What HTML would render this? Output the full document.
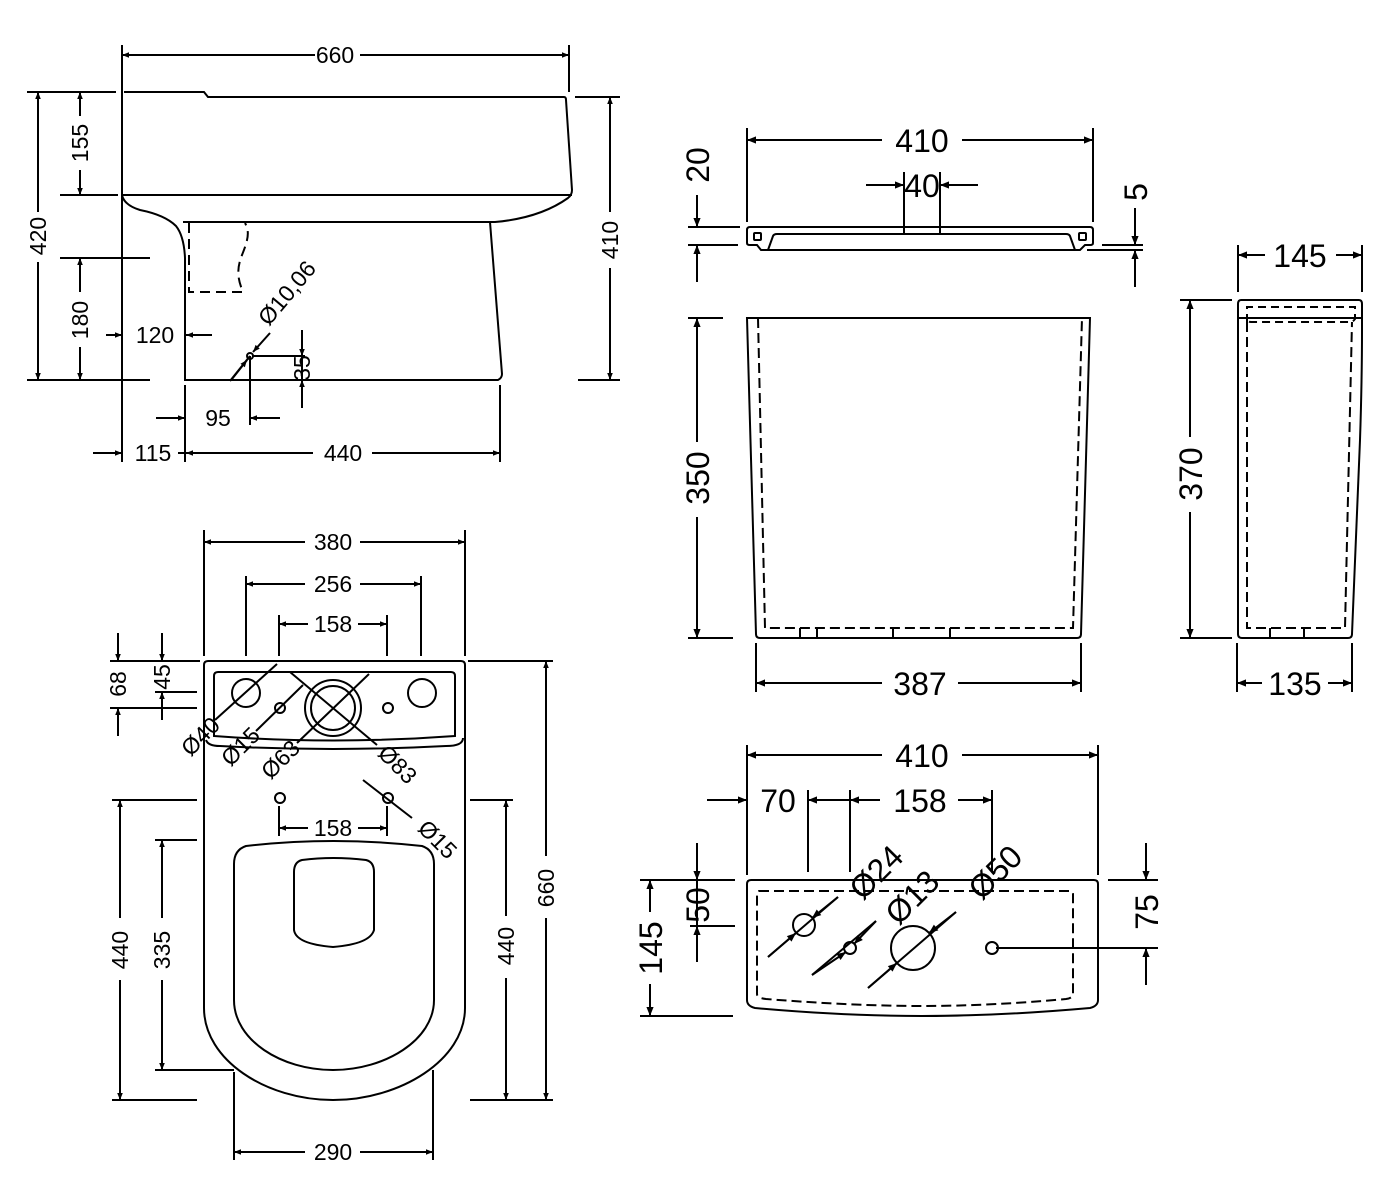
<!DOCTYPE html>
<html><head><meta charset="utf-8"><style>
html,body{margin:0;padding:0;background:#fff;}
svg{display:block;}
text{font-family:"Liberation Sans",sans-serif;fill:#000;}
.s{font-size:23px;}
.b{font-size:32px;}
</style></head><body>
<svg width="1400" height="1200" viewBox="0 0 1400 1200" xmlns="http://www.w3.org/2000/svg">
<defs>
<marker id="a" viewBox="0 0 10 10" refX="10" refY="5" markerWidth="17" markerHeight="7" markerUnits="userSpaceOnUse" orient="auto"><path d="M0,1 L10,5 L0,9z" fill="#000"/></marker>
<marker id="A" viewBox="0 0 10 10" refX="10" refY="5" markerWidth="21" markerHeight="9" markerUnits="userSpaceOnUse" orient="auto"><path d="M0,1 L10,5 L0,9z" fill="#000"/></marker>
</defs>
<g fill="none" stroke="#000" stroke-width="2">

<!-- ===== SIDE VIEW ===== -->
<path d="M124,92 H204 L208,97 H564 Q566,97 566,100 L572,190 Q572,195 568,198 Q540,218 495,222 H183"/>
<path d="M122,195 H572"/>
<path d="M122,195 Q124,205 140,210 Q165,215 176,226 Q184,236 185,258 V380 H498 Q502,378 502,374 L490,222"/>
<path d="M189,223 V292 H243 C238,280 236,270 242,255 C248,240 250,232 245,223" stroke-dasharray="10,6"/>
<line x1="122" y1="45" x2="122" y2="462"/><line x1="569" y1="45" x2="569" y2="92"/>
<line x1="315" y1="55" x2="122" y2="55" marker-end="url(#a)"/><line x1="360" y1="55" x2="569" y2="55" marker-end="url(#a)"/>
<line x1="27" y1="92" x2="116" y2="92"/><line x1="27" y1="380" x2="150" y2="380"/>
<line x1="38" y1="212" x2="38" y2="92" marker-end="url(#a)"/><line x1="38" y1="262" x2="38" y2="380" marker-end="url(#a)"/>
<line x1="60" y1="195" x2="118" y2="195"/>
<line x1="80" y1="116" x2="80" y2="92" marker-end="url(#a)"/><line x1="80" y1="170" x2="80" y2="195" marker-end="url(#a)"/>
<line x1="60" y1="258" x2="150" y2="258"/>
<line x1="80" y1="292" x2="80" y2="258" marker-end="url(#a)"/><line x1="80" y1="347" x2="80" y2="380" marker-end="url(#a)"/>
<line x1="106" y1="335" x2="122" y2="335" marker-end="url(#a)"/><line x1="212" y1="335" x2="186" y2="335" marker-end="url(#a)"/>
<line x1="575" y1="97" x2="620" y2="97"/><line x1="578" y1="380" x2="620" y2="380"/>
<line x1="610" y1="212" x2="610" y2="97" marker-end="url(#a)"/><line x1="610" y1="268" x2="610" y2="380" marker-end="url(#a)"/>
<circle cx="250" cy="356" r="3"/>
<line x1="230" y1="381" x2="250" y2="356" /><line x1="232" y1="379" x2="247" y2="360" marker-end="url(#a)"/>
<line x1="270" y1="333" x2="253" y2="352" marker-end="url(#a)"/>
<line x1="252" y1="356" x2="305" y2="356"/>
<line x1="302" y1="330" x2="302" y2="356" marker-end="url(#a)"/><line x1="302" y1="408" x2="302" y2="380" marker-end="url(#a)"/>
<line x1="302" y1="356" x2="302" y2="380"/>
<line x1="250" y1="356" x2="250" y2="425"/><line x1="185" y1="385" x2="185" y2="462"/>
<line x1="156" y1="418" x2="185" y2="418" marker-end="url(#a)"/><line x1="280" y1="418" x2="250" y2="418" marker-end="url(#a)"/>
<line x1="500" y1="385" x2="500" y2="462"/>
<line x1="93" y1="453" x2="122" y2="453" marker-end="url(#a)"/><line x1="313" y1="453" x2="186" y2="453" marker-end="url(#a)"/>
<line x1="372" y1="453" x2="500" y2="453" marker-end="url(#a)"/><line x1="178" y1="453" x2="186" y2="453"/>

<!-- ===== PLAN VIEW ===== -->
<path d="M208,661 H461 Q465,661 465,665 V1008 C465,1060 400,1100 333,1100 C266,1100 204,1060 204,1008 V665 Q204,661 208,661 Z"/>
<path d="M206,740 Q208,746 220,746 Q333,752 446,746 Q463,746 463,738"/>
<path d="M218,672 H451 Q455,672 455,676 V736 Q333,745 214,736 V676 Q214,672 218,672 Z"/>
<circle cx="246" cy="693" r="14"/><circle cx="422" cy="693" r="14"/>
<circle cx="280" cy="708" r="5"/><circle cx="388" cy="708" r="5"/>
<circle cx="333" cy="708" r="28"/><circle cx="333" cy="708" r="22"/>
<circle cx="280" cy="798" r="5"/><circle cx="388" cy="798" r="5"/>
<path d="M246,846 Q333,836 422,846 Q434,850 434,864 V1000 C434,1040 385,1070 333,1070 C281,1070 234,1040 234,1000 V864 Q234,850 246,846 Z"/>
<path d="M302,860 Q333,856 366,860 Q374,862 374,872 V930 Q370,944 333,947 Q296,944 294,930 V872 Q294,862 302,860 Z"/>
<line x1="215" y1="720" x2="277" y2="664"/>
<line x1="256" y1="731" x2="303" y2="685"/>
<line x1="297" y1="743" x2="369" y2="674"/>
<line x1="290" y1="672" x2="377" y2="745"/>
<line x1="363" y1="780" x2="412" y2="818"/>
<line x1="204" y1="530" x2="204" y2="656"/><line x1="465" y1="530" x2="465" y2="656"/>
<line x1="305" y1="542" x2="204" y2="542" marker-end="url(#a)"/><line x1="360" y1="542" x2="465" y2="542" marker-end="url(#a)"/>
<line x1="246" y1="576" x2="246" y2="656"/><line x1="421" y1="576" x2="421" y2="656"/>
<line x1="305" y1="584" x2="246" y2="584" marker-end="url(#a)"/><line x1="360" y1="584" x2="421" y2="584" marker-end="url(#a)"/>
<line x1="279" y1="615" x2="279" y2="656"/><line x1="387" y1="615" x2="387" y2="656"/>
<line x1="308" y1="624" x2="279" y2="624" marker-end="url(#a)"/><line x1="358" y1="624" x2="387" y2="624" marker-end="url(#a)"/>
<line x1="279" y1="806" x2="279" y2="836"/><line x1="387" y1="806" x2="387" y2="836"/>
<line x1="308" y1="828" x2="279" y2="828" marker-end="url(#a)"/><line x1="358" y1="828" x2="387" y2="828" marker-end="url(#a)"/>
<line x1="110" y1="661" x2="200" y2="661"/><line x1="110" y1="708" x2="197" y2="708"/><line x1="155" y1="692" x2="197" y2="692"/>
<line x1="118" y1="633" x2="118" y2="661" marker-end="url(#a)"/><line x1="118" y1="736" x2="118" y2="708" marker-end="url(#a)"/>
<line x1="162" y1="633" x2="162" y2="661" marker-end="url(#a)"/><line x1="162" y1="720" x2="162" y2="692" marker-end="url(#a)"/>
<line x1="112" y1="800" x2="197" y2="800"/><line x1="112" y1="1100" x2="197" y2="1100"/>
<line x1="120" y1="918" x2="120" y2="800" marker-end="url(#a)"/><line x1="120" y1="980" x2="120" y2="1100" marker-end="url(#a)"/>
<line x1="155" y1="840" x2="197" y2="840"/><line x1="155" y1="1070" x2="234" y2="1070"/>
<line x1="162" y1="918" x2="162" y2="840" marker-end="url(#a)"/><line x1="162" y1="980" x2="162" y2="1070" marker-end="url(#a)"/>
<line x1="470" y1="800" x2="513" y2="800"/><line x1="470" y1="1100" x2="553" y2="1100"/><line x1="468" y1="661" x2="553" y2="661"/>
<line x1="506" y1="916" x2="506" y2="800" marker-end="url(#a)"/><line x1="506" y1="978" x2="506" y2="1100" marker-end="url(#a)"/>
<line x1="546" y1="856" x2="546" y2="661" marker-end="url(#a)"/><line x1="546" y1="918" x2="546" y2="1100" marker-end="url(#a)"/>
<line x1="234" y1="1072" x2="234" y2="1160"/><line x1="433" y1="1070" x2="433" y2="1160"/>
<line x1="305" y1="1152" x2="234" y2="1152" marker-end="url(#a)"/><line x1="360" y1="1152" x2="433" y2="1152" marker-end="url(#a)"/>

<!-- ===== LID ===== -->
<path d="M750,227 H1090 Q1093,227 1093,230 V243 Q1093,245 1090,245 H1085 L1080,250 H761 L757,245 H750 Q747,245 747,243 V230 Q747,227 750,227 Z"/>
<path d="M768,250 L773,236 Q774,234 777,234 H1066 Q1069,234 1070,236 L1075,250"/>
<rect x="754" y="233" width="7" height="7" rx="1"/><rect x="1079" y="233" width="7" height="7" rx="1"/>
<line x1="747" y1="128" x2="747" y2="222"/><line x1="1093" y1="128" x2="1093" y2="222"/>
<line x1="882" y1="140" x2="747" y2="140" marker-end="url(#A)"/><line x1="962" y1="140" x2="1093" y2="140" marker-end="url(#A)"/>
<line x1="904" y1="172" x2="904" y2="234"/><line x1="940" y1="172" x2="940" y2="234"/>
<line x1="866" y1="185" x2="904" y2="185" marker-end="url(#A)"/><line x1="978" y1="185" x2="940" y2="185" marker-end="url(#A)"/>
<line x1="688" y1="227" x2="740" y2="227"/><line x1="688" y1="245" x2="738" y2="245"/>
<line x1="697" y1="195" x2="697" y2="227" marker-end="url(#A)"/><line x1="697" y1="282" x2="697" y2="245" marker-end="url(#A)"/>
<line x1="1102" y1="245" x2="1143" y2="245"/><line x1="1087" y1="250" x2="1143" y2="250"/>
<line x1="1135" y1="208" x2="1135" y2="245" marker-end="url(#A)"/><line x1="1135" y1="287" x2="1135" y2="250" marker-end="url(#A)"/>

<!-- ===== TANK FRONT ===== -->
<path d="M747,318 H1090 L1081,634 Q1081,638 1077,638 H760 Q756,638 756,634 Z"/>
<path d="M758,318 L765,628 H1073 L1082,318" stroke-dasharray="10,5"/>
<path d="M800,628 V638 M817,628 V638 M893,628 V638 M950,628 V638"/>
<line x1="688" y1="318" x2="723" y2="318"/><line x1="688" y1="638" x2="733" y2="638"/>
<line x1="697" y1="442" x2="697" y2="318" marker-end="url(#A)"/><line x1="697" y1="517" x2="697" y2="638" marker-end="url(#A)"/>
<line x1="756" y1="643" x2="756" y2="692"/><line x1="1081" y1="643" x2="1081" y2="692"/>
<line x1="882" y1="683" x2="756" y2="683" marker-end="url(#A)"/><line x1="958" y1="683" x2="1081" y2="683" marker-end="url(#A)"/>

<!-- ===== TANK SIDE ===== -->
<path d="M1241,300 H1359 Q1362,300 1362,304 V330 Q1362,380 1360,440 L1352,634 Q1352,638 1348,638 H1242 Q1238,638 1238,634 V304 Q1238,300 1241,300 Z"/>
<line x1="1238" y1="318" x2="1362" y2="318"/>
<path d="M1247,322 V307 H1355 V319 Q1353,322 1350,322 H1251 Q1248,322 1247,320" stroke-dasharray="8,5"/>
<path d="M1247,322 V628 H1345 L1352,322" stroke-dasharray="10,5"/>
<path d="M1270,628 V638 M1304,628 V638"/>
<line x1="1238" y1="245" x2="1238" y2="292"/><line x1="1362" y1="245" x2="1362" y2="292"/>
<line x1="1265" y1="255" x2="1238" y2="255" marker-end="url(#A)"/><line x1="1336" y1="255" x2="1362" y2="255" marker-end="url(#A)"/>
<line x1="1180" y1="300" x2="1232" y2="300"/><line x1="1180" y1="638" x2="1232" y2="638"/>
<line x1="1190" y1="437" x2="1190" y2="300" marker-end="url(#A)"/><line x1="1190" y1="512" x2="1190" y2="638" marker-end="url(#A)"/>
<line x1="1237" y1="643" x2="1237" y2="692"/><line x1="1352" y1="643" x2="1352" y2="692"/>
<line x1="1262" y1="683" x2="1237" y2="683" marker-end="url(#A)"/><line x1="1328" y1="683" x2="1352" y2="683" marker-end="url(#A)"/>

<!-- ===== TANK TOP ===== -->
<path d="M751,880 H1094 Q1098,880 1098,884 V1000 Q1098,1006 1090,1008 Q1000,1016 922,1016 Q844,1016 755,1008 Q747,1006 747,1000 V884 Q747,880 751,880 Z"/>
<path d="M759,891 H1070 Q1073,891 1073,894 V994 Q1073,998 1066,999 Q990,1006 922,1006 Q854,1006 766,999 Q757,998 757,994 V894 Q757,891 759,891 Z" stroke-dasharray="10,5"/>
<circle cx="804" cy="925" r="11"/><circle cx="850" cy="948" r="6"/><circle cx="913" cy="948" r="22"/><circle cx="992" cy="948" r="6"/>
<line x1="768" y1="957" x2="796" y2="933" marker-end="url(#A)"/><line x1="838" y1="897" x2="812" y2="918" marker-end="url(#A)"/>
<line x1="812" y1="975" x2="846" y2="952" marker-end="url(#A)"/><line x1="876" y1="921" x2="854" y2="944" marker-end="url(#A)"/>
<line x1="868" y1="988" x2="897" y2="963" marker-end="url(#A)"/><line x1="956" y1="912" x2="929" y2="933" marker-end="url(#A)"/>
<line x1="768" y1="957" x2="838" y2="897"/><line x1="812" y1="975" x2="876" y2="921"/><line x1="868" y1="988" x2="956" y2="912"/>
<line x1="747" y1="745" x2="747" y2="875"/><line x1="1098" y1="745" x2="1098" y2="875"/>
<line x1="882" y1="755" x2="747" y2="755" marker-end="url(#A)"/><line x1="962" y1="755" x2="1098" y2="755" marker-end="url(#A)"/>
<line x1="808" y1="790" x2="808" y2="872"/><line x1="850" y1="790" x2="850" y2="872"/><line x1="992" y1="790" x2="992" y2="872"/>
<line x1="707" y1="800" x2="747" y2="800" marker-end="url(#A)"/>
<line x1="850" y1="800" x2="808" y2="800" marker-end="url(#A)"/><line x1="880" y1="800" x2="850" y2="800" marker-end="url(#A)"/>
<line x1="958" y1="800" x2="992" y2="800" marker-end="url(#A)"/>
<line x1="640" y1="880" x2="735" y2="880"/><line x1="640" y1="1016" x2="733" y2="1016"/><line x1="690" y1="926" x2="735" y2="926"/>
<line x1="650" y1="912" x2="650" y2="880" marker-end="url(#A)"/><line x1="650" y1="984" x2="650" y2="1016" marker-end="url(#A)"/>
<line x1="697" y1="843" x2="697" y2="880" marker-end="url(#A)"/><line x1="697" y1="962" x2="697" y2="926" marker-end="url(#A)"/>
<line x1="697" y1="880" x2="697" y2="926"/>
<line x1="1108" y1="880" x2="1158" y2="880"/><line x1="996" y1="948" x2="1158" y2="948"/>
<line x1="1146" y1="843" x2="1146" y2="880" marker-end="url(#A)"/><line x1="1146" y1="985" x2="1146" y2="948" marker-end="url(#A)"/>
</g>

<g class="s">
<text x="335" y="63" text-anchor="middle">660</text>
<text transform="translate(46,236) rotate(-90)" text-anchor="middle">420</text>
<text transform="translate(88,143) rotate(-90)" text-anchor="middle">155</text>
<text transform="translate(88,320) rotate(-90)" text-anchor="middle">180</text>
<text x="155" y="343" text-anchor="middle">120</text>
<text transform="translate(618,240) rotate(-90)" text-anchor="middle">410</text>
<text transform="translate(293,298) rotate(-50)" text-anchor="middle">Ø10,06</text>
<text transform="translate(310,368) rotate(-90)" text-anchor="middle">35</text>
<text x="218" y="426" text-anchor="middle">95</text>
<text x="153" y="461" text-anchor="middle">115</text>
<text x="343" y="461" text-anchor="middle">440</text>
<text x="333" y="550" text-anchor="middle">380</text>
<text x="333" y="592" text-anchor="middle">256</text>
<text x="333" y="632" text-anchor="middle">158</text>
<text x="333" y="836" text-anchor="middle">158</text>
<text transform="translate(126,684) rotate(-90)" text-anchor="middle">68</text>
<text transform="translate(170,677) rotate(-90)" text-anchor="middle">45</text>
<text transform="translate(128,950) rotate(-90)" text-anchor="middle">440</text>
<text transform="translate(170,950) rotate(-90)" text-anchor="middle">335</text>
<text transform="translate(514,946) rotate(-90)" text-anchor="middle">440</text>
<text transform="translate(554,888) rotate(-90)" text-anchor="middle">660</text>
<text x="333" y="1160" text-anchor="middle">290</text>
<text transform="translate(206,742) rotate(-45)" text-anchor="middle">Ø40</text>
<text transform="translate(246,752) rotate(-45)" text-anchor="middle">Ø15</text>
<text transform="translate(286,765) rotate(-45)" text-anchor="middle">Ø63</text>
<text transform="translate(392,770) rotate(45)" text-anchor="middle">Ø83</text>
<text transform="translate(432,845) rotate(45)" text-anchor="middle">Ø15</text>
</g>
<g class="b">
<text x="922" y="152" text-anchor="middle">410</text>
<text x="922" y="197" text-anchor="middle">40</text>
<text transform="translate(709,165) rotate(-90)" text-anchor="middle">20</text>
<text transform="translate(1147,192) rotate(-90)" text-anchor="middle">5</text>
<text transform="translate(709,478) rotate(-90)" text-anchor="middle">350</text>
<text x="920" y="695" text-anchor="middle">387</text>
<text x="1300" y="267" text-anchor="middle">145</text>
<text transform="translate(1202,474) rotate(-90)" text-anchor="middle">370</text>
<text x="1295" y="695" text-anchor="middle">135</text>
<text x="922" y="767" text-anchor="middle">410</text>
<text x="778" y="812" text-anchor="middle">70</text>
<text x="920" y="812" text-anchor="middle">158</text>
<text transform="translate(662,948) rotate(-90)" text-anchor="middle">145</text>
<text transform="translate(709,905) rotate(-90)" text-anchor="middle">50</text>
<text transform="translate(1158,912) rotate(-90)" text-anchor="middle">75</text>
<text transform="translate(884,880) rotate(-45)" text-anchor="middle">Ø24</text>
<text transform="translate(920,905) rotate(-45)" text-anchor="middle">Ø13</text>
<text transform="translate(1003,880) rotate(-45)" text-anchor="middle">Ø50</text>
</g>
</svg>
</body></html>
